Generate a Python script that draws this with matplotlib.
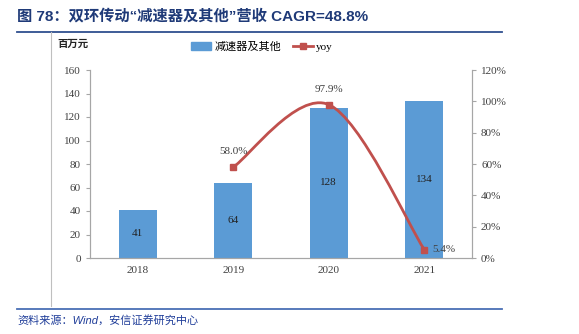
import matplotlib.pyplot as plt
from matplotlib.path import Path
from matplotlib.patches import PathPatch
from matplotlib.lines import Line2D
from matplotlib.ticker import FuncFormatter

plt.rcParams['font.family'] = ['Liberation Serif', 'Noto Sans CJK SC']

years = ['2018', '2019', '2020', '2021']
revenue = [41, 64, 128, 134]
yoy_years = [1, 2, 3]
yoy = [0.580, 0.979, 0.054]

bar_color = '#5B9BD5'
line_color = '#C0504D'
spine_color = '#A6A6A6'

fig = plt.figure(figsize=(5.79, 3.34), dpi=100)
ax = fig.add_axes([90 / 579, 1 - 258 / 334, 382 / 579, 188 / 334])
ax2 = ax.twinx()

x = list(range(len(years)))
bars = ax.bar(x, revenue, width=0.4, color=bar_color, zorder=2)
for xi, v in zip(x, revenue):
    ax.text(xi, v / 2, str(v), ha='center', va='center', fontsize=8, color='#222222')

ax.set_xlim(-0.5, 3.5)
ax.set_ylim(0, 160)
ax.set_yticks(range(0, 161, 20))
ax.set_xticks(x)
ax.set_xticklabels(years)

ax2.set_ylim(0, 1.2)
ax2.set_yticks([i / 5 for i in range(7)])
ax2.yaxis.set_major_formatter(FuncFormatter(lambda v, p: '{:.0f}%'.format(v * 100)))

for a in (ax, ax2):
    a.spines['top'].set_visible(False)
    for s in ('left', 'right', 'bottom'):
        a.spines[s].set_color(spine_color)
    a.tick_params(colors=spine_color, labelcolor='#404040', labelsize=8, length=3)
ax.tick_params(axis='x', length=0, pad=6)

# smoothed yoy line (Excel-style bezier through the points)
pts = list(zip(yoy_years, yoy))
verts = [pts[0]]
codes = [Path.MOVETO]
for i in range(len(pts) - 1):
    p0 = pts[i - 1] if i > 0 else pts[i]
    p1 = pts[i]
    p2 = pts[i + 1]
    p3 = pts[i + 2] if i + 2 < len(pts) else pts[i + 1]
    c1 = (p1[0] + (p2[0] - p0[0]) / 6, p1[1] + (p2[1] - p0[1]) / 6)
    c2 = (p2[0] - (p3[0] - p1[0]) / 6, p2[1] - (p3[1] - p1[1]) / 6)
    verts += [c1, c2, p2]
    codes += [Path.CURVE4] * 3
ax2.add_patch(PathPatch(Path(verts, codes), fill=False, edgecolor=line_color, lw=2, zorder=3))
ax2.plot(yoy_years, yoy, 's', color=line_color, ms=5, zorder=4)

for xi, v in zip(yoy_years, yoy):
    lbl = '{:.1f}%'.format(v * 100)
    if xi == 3:
        ax2.annotate(lbl, (xi, v), xytext=(6, 0), textcoords='offset points',
                     ha='left', va='center', fontsize=8, color='#404040')
    else:
        ax2.annotate(lbl, (xi, v), xytext=(0, 8), textcoords='offset points',
                     ha='center', va='bottom', fontsize=8, color='#404040')

handles = [plt.Rectangle((0, 0), 1, 1, color=bar_color),
           Line2D([0], [0], color=line_color, lw=2, marker='s', ms=5)]
fig.legend(handles, ['减速器及其他', 'yoy'], loc='center', bbox_to_anchor=(262 / 579, 1 - 47 / 334),
           ncol=2, frameon=False, handlelength=1.8, columnspacing=1.0,
           handletextpad=0.3, prop={'family': ['Liberation Serif', 'Noto Sans CJK SC'], 'size': 8})

fig.text(57 / 579, 1 - 44 / 334, '百万元', fontsize=7.5, fontweight='bold',
         family=['Noto Sans CJK SC'], va='center', color='#222222')

# title, rules and source
fig.text(17 / 579, 1 - 16 / 334, '图 78：双环传动“减速器及其他”营收 CAGR=48.8%', fontsize=11,
         fontweight='bold', color='#1F3A78', va='center',
         family=['Liberation Sans', 'Noto Sans CJK SC'])
fig.add_artist(Line2D([17 / 579, 502 / 579], [1 - 32 / 334, 1 - 32 / 334], color='#2F4F8F', lw=1.3))
fig.add_artist(Line2D([51 / 579, 51 / 579], [1 - 32 / 334, 1 - 306 / 334], color='#BFBFBF', lw=0.8))
fig.add_artist(Line2D([17 / 579, 502 / 579], [1 - 309 / 334, 1 - 309 / 334], color='#4A6FB5', lw=1.3))
fig.text(17 / 579, 1 - 320 / 334, '资料来源：Wind，安信证券研究中心', fontsize=8, style='italic',
         color='#1F3D99', va='center', family=['Liberation Sans', 'Noto Sans CJK SC'])

fig.savefig('out.png', dpi=100)
